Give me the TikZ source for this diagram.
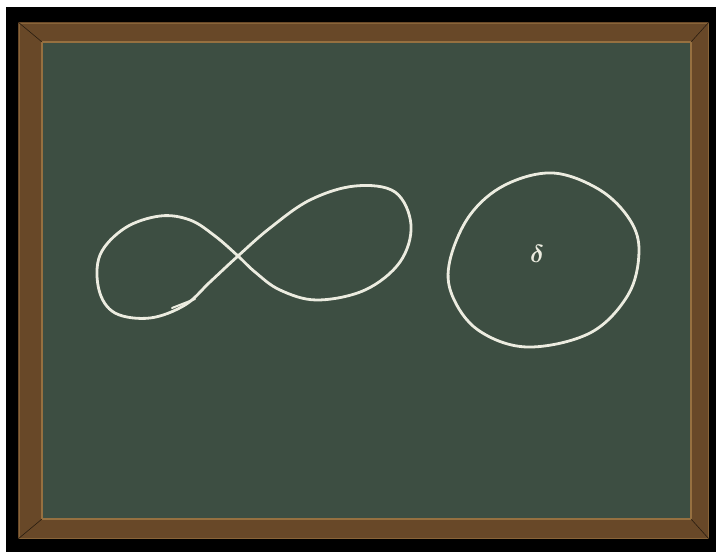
\documentclass[tikz,border=0pt]{standalone}
\usepackage{xcolor}
\usepackage{tikz}

\definecolor{boardgreen}{RGB}{61,78,66}
\definecolor{framebrown}{RGB}{104,72,40}
\definecolor{framelight}{RGB}{150,112,64}
\definecolor{chalk}{RGB}{236,236,224}

\begin{document}
\begin{tikzpicture}[
  x=1pt, y=-1pt,
  chalkline/.style={draw=chalk, line width=2.8pt, line cap=round, line join=round},
  chalktext/.style={text=chalk, font=\fontsize{34}{34}\selectfont\boldmath}
]
\useasboundingbox (0,0) rectangle (716,552);
% outside and frame
\fill[white] (0,0) rectangle (716,552);
\fill[black] (6,7) rectangle (716,552);
\fill[framebrown] (18,22) rectangle (709,539);
\draw[framelight, line width=2pt] (42,42) rectangle (691,519);
\draw[framelight!70!framebrown, line width=1pt] (19,23) rectangle (708,538);
\draw[black!60!framebrown, line width=0.6pt] (18,22) -- (42,42) (709,22) -- (691,42)
  (18,539) -- (42,519) (709,539) -- (691,519);
\fill[boardgreen] (43,43) rectangle (690,518);
% figure eight
\draw[chalkline] plot[smooth cycle, tension=0.6] coordinates {
  (150,318) (185,305) (210,282) (238,256) (270,228) (310,200) (355,186)
  (395,192) (411,225) (400,262) (365,290) (317,300) (280,290) (255,272)
  (238,256) (215,236) (190,220) (160,216) (125,228) (100,255) (99,290)
  (115,313)};
\draw[chalkline, line width=2pt] (172,308) -- (195,299);
% circle
\draw[chalkline] plot[smooth cycle, tension=0.6] coordinates {
  (553,173) (600,190) (630,220) (639,252) (628,295) (590,333) (527,347)
  (478,330) (452,295) (450,260) (470,215) (505,185)};
\node[chalktext] (delta) at (537,254) {$\delta$};
\end{tikzpicture}
\end{document}
